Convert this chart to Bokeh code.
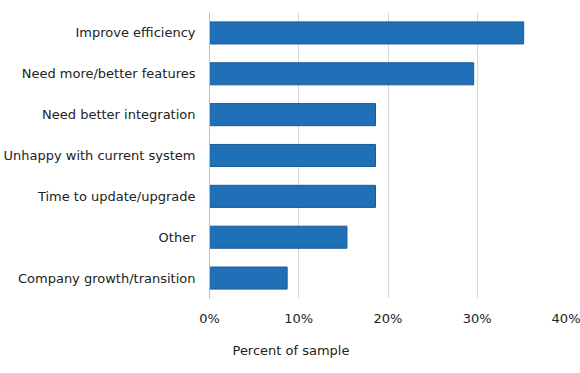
from bokeh.plotting import figure
from bokeh.models import Range1d, FactorRange, FixedTicker, PrintfTickFormatter, Title
from bokeh.embed import file_html
from bokeh.resources import INLINE

categories = [
    "Improve efficiency",
    "Need more/better features",
    "Need better integration",
    "Unhappy with current system",
    "Time to update/upgrade",
    "Other",
    "Company growth/transition",
]
values = [35.2, 29.6, 18.6, 18.6, 18.6, 15.4, 8.7]
x_ticks = [0, 10, 20, 30, 40]
x_label = "Percent of sample"

FONT = "DejaVu Sans"

p = figure(
    width=580, height=373,
    y_range=FactorRange(factors=categories[::-1], range_padding=0),
    x_range=Range1d(0, 40),
    output_backend="svg", toolbar_location=None,
    min_border_left=208, min_border_right=14,
    min_border_top=12, min_border_bottom=75,
)
p.outline_line_color = None
p.background_fill_color = "white"
p.border_fill_color = "white"

p.hbar(y=categories, right=values, left=0, height=0.54,
       fill_color="#2070b8", line_color="#1a5a96", line_width=1)

p.ygrid.grid_line_color = None
p.xgrid.grid_line_color = "#d6d6d6"
p.xgrid.grid_line_width = 1
p.xaxis.ticker = FixedTicker(ticks=x_ticks)
p.xaxis.formatter = PrintfTickFormatter(format="%d%%")
p.xaxis.axis_line_color = None
p.xaxis.major_tick_line_color = None
p.xaxis.minor_tick_line_color = None
p.xaxis.major_label_text_font = FONT
p.xaxis.major_label_text_font_size = "13px"
p.xaxis.major_label_text_color = "#222222"
p.xaxis.major_label_standoff = 6

p.yaxis.axis_line_color = "#bdbdbd"
p.yaxis.major_tick_line_color = None
p.yaxis.minor_tick_line_color = None
p.yaxis.major_label_text_font = FONT
p.yaxis.major_label_text_font_size = "13px"
p.yaxis.major_label_text_color = "#222222"
p.yaxis.major_label_standoff = 8

t = Title(text=x_label, align="left", offset=23, text_font=FONT,
          text_font_size="13px", text_font_style="normal", text_color="#222222",
          standoff=24)
p.add_layout(t, "below")

open("out.html", "w").write(file_html(p, INLINE))
